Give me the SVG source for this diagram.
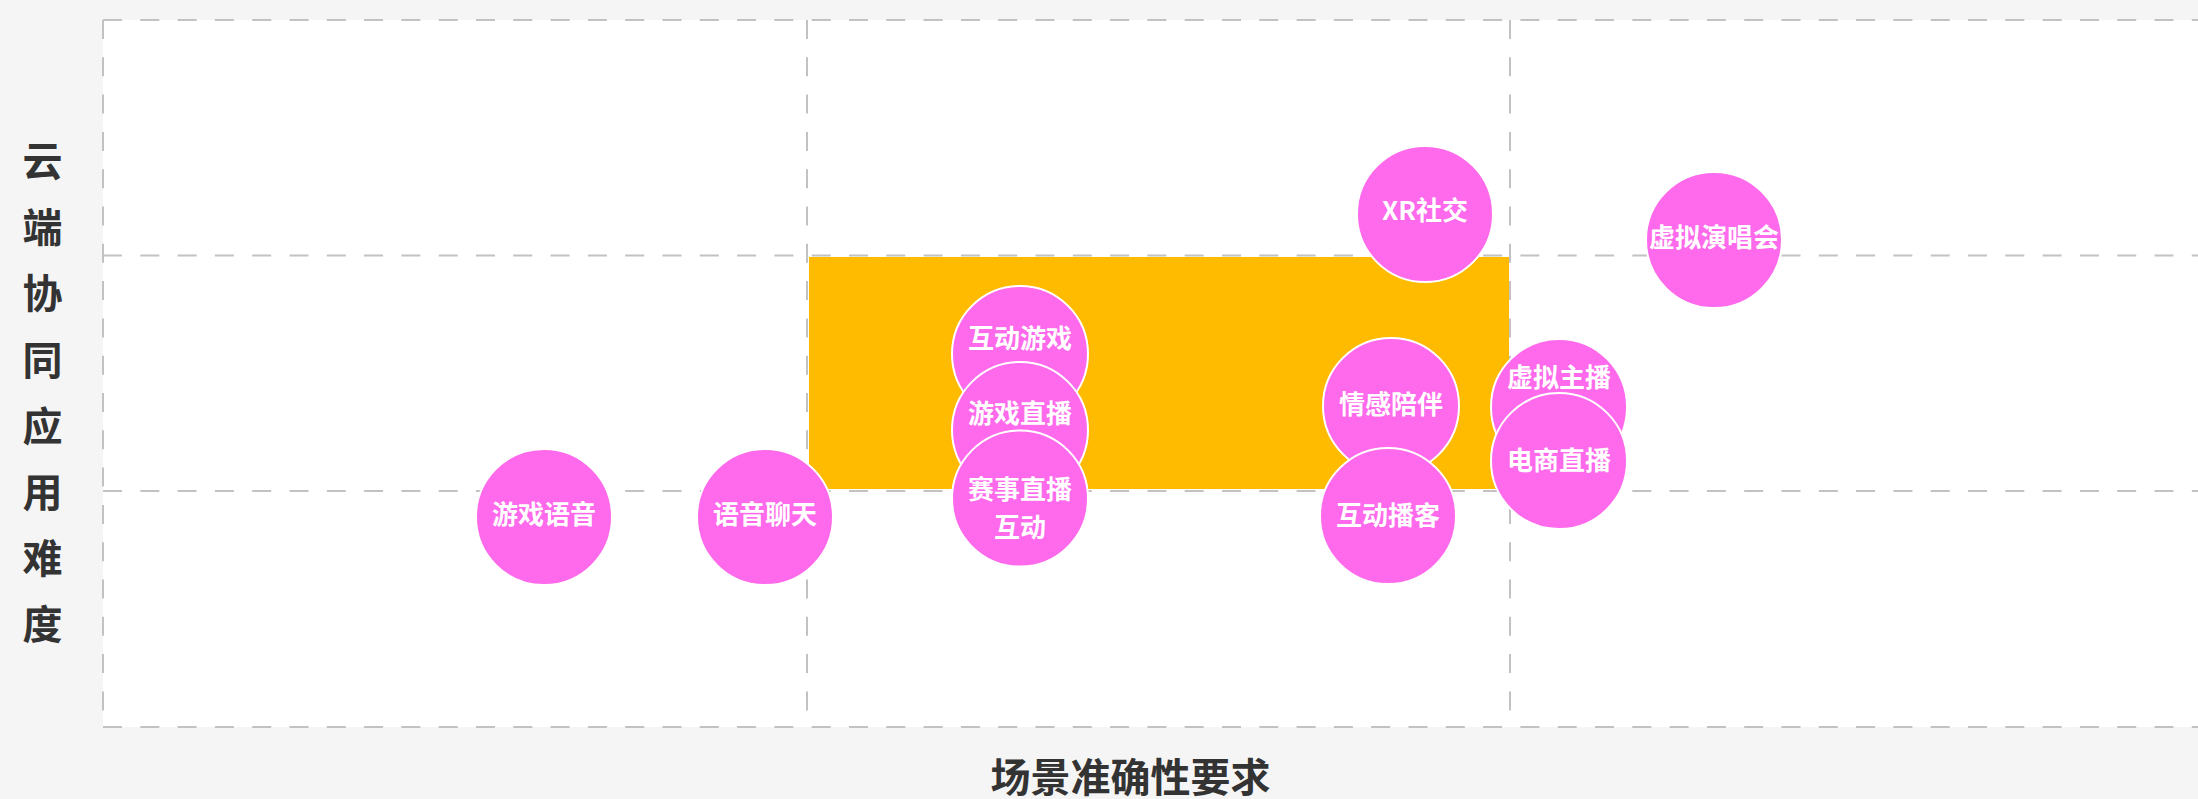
<svg xmlns="http://www.w3.org/2000/svg" width="2198" height="799" viewBox="0 0 2198 799">
<style>
.grid{stroke:#c2c2c2;stroke-width:2;stroke-dasharray:19 18.3;fill:none}
.bubble{fill:#ff69eb;stroke:#ffffff;stroke-width:2}
.lbl{font-family:"Noto Sans CJK SC","Noto Sans",sans-serif;font-size:26px;font-weight:bold;fill:#ffffff;text-anchor:middle}
.axis{font-family:"Noto Sans CJK SC","Noto Sans",sans-serif;font-size:40px;font-weight:bold;fill:#333333;text-anchor:middle}
</style>
<rect x="0" y="0" width="2198" height="799" fill="#f5f5f5"/>
<rect x="103" y="20" width="2095" height="707" fill="#ffffff"/>
<g id="grid">
<line class="grid" x1="103" y1="20" x2="2198" y2="20"/>
<line class="grid" x1="103" y1="255.5" x2="2198" y2="255.5"/>
<line class="grid" x1="103" y1="491" x2="2198" y2="491"/>
<line class="grid" x1="103" y1="727" x2="2198" y2="727"/>
<line class="grid" x1="103" y1="20" x2="103" y2="727"/>
<line class="grid" x1="807" y1="20" x2="807" y2="727"/>
<line class="grid" x1="1510" y1="20" x2="1510" y2="727"/>
</g>
<rect id="highlight" x="809" y="257" width="700" height="232" fill="#ffbb00"/>
<g id="connectors"></g>
<g id="n-youxiyuyin"><circle class="bubble" cx="544" cy="517" r="68"/><text class="lbl" x="544" y="524">游戏语音</text></g>
<g id="n-yuyinliaotian"><circle class="bubble" cx="765" cy="517" r="68"/><text class="lbl" x="765" y="524">语音聊天</text></g>
<g id="n-hudongyouxi"><circle class="bubble" cx="1020" cy="354" r="68"/><text class="lbl" x="1020" y="348">互动游戏</text></g>
<g id="n-youxizhibo"><circle class="bubble" cx="1020" cy="430" r="68"/><text class="lbl" x="1020" y="423">游戏直播</text></g>
<g id="n-saishizhibo"><circle class="bubble" cx="1020" cy="498.5" r="68"/><text class="lbl" x="1020" y="499">赛事直播</text><text class="lbl" x="1020" y="537">互动</text></g>
<g id="n-xrshejiao"><circle class="bubble" cx="1425" cy="214" r="68"/><text class="lbl" x="1425" y="220">XR社交</text></g>
<g id="n-xunihuanchanghui"><circle class="bubble" cx="1714" cy="240" r="68"/><text class="lbl" x="1714" y="247">虚拟演唱会</text></g>
<g id="n-qingganpeiban"><circle class="bubble" cx="1391" cy="406" r="68"/><text class="lbl" x="1391" y="414">情感陪伴</text></g>
<g id="n-hudongboke"><circle class="bubble" cx="1388" cy="516" r="68"/><text class="lbl" x="1388" y="525">互动播客</text></g>
<g id="n-xunizhubo"><circle class="bubble" cx="1559" cy="407" r="68"/><text class="lbl" x="1559" y="387">虚拟主播</text></g>
<g id="n-dianshangzhibo"><circle class="bubble" cx="1559" cy="461" r="68"/><text class="lbl" x="1559" y="470">电商直播</text></g>
<g id="axis-x"><text class="axis" x="1130.5" y="792">场景准确性要求</text></g>
<g id="axis-y">
<text class="axis" x="42.5" y="176">云</text>
<text class="axis" x="42.5" y="242.2">端</text>
<text class="axis" x="42.5" y="308.4">协</text>
<text class="axis" x="42.5" y="374.6">同</text>
<text class="axis" x="42.5" y="440.8">应</text>
<text class="axis" x="42.5" y="507">用</text>
<text class="axis" x="42.5" y="573.2">难</text>
<text class="axis" x="42.5" y="639.4">度</text>
</g>
</svg>
